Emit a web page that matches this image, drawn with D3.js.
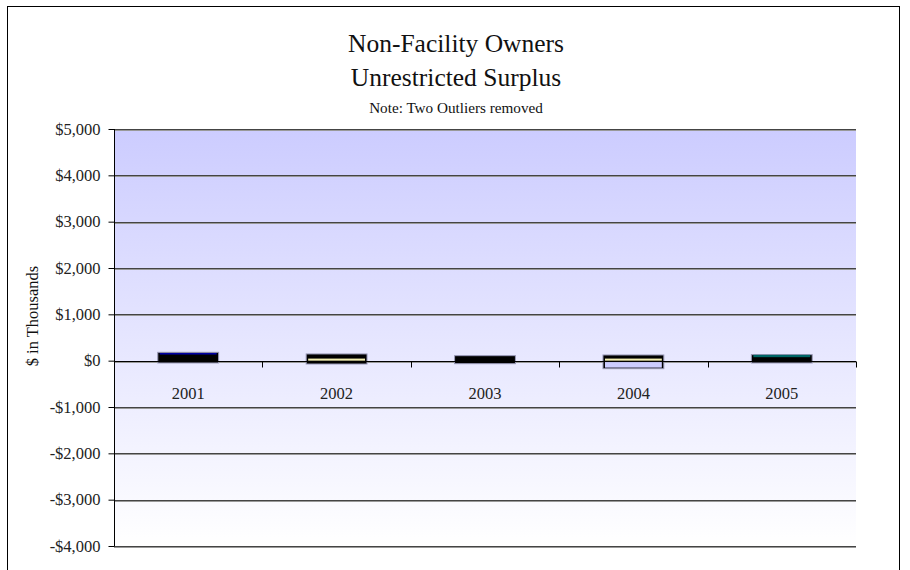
<!DOCTYPE html>
<html><head><meta charset="utf-8">
<script src="https://cdn.jsdelivr.net/npm/d3@7"></script>
<style>body{margin:0;background:#fff}</style>
</head><body><svg id="c" width="910" height="570"></svg>
<script>
const years = ["2001","2002","2003","2004","2005"];
const boxLow  = [-50, -72, -65, -173, -50];
const boxHigh = [180, 145, 108, 123, 130];
const bandYear  = ["2001","2002","2004","2004","2005"];
const bandLow   = [135, 0, 0, -150, 75];
const bandHigh  = [160, 45, 45, -30, 125];
const bandColor = ["#0000dd","#f2eeb0","#f2eeb0","#ccccff","#006666"];
const yTicks = [-4000,-3000,-2000,-1000,0,1000,2000,3000,4000,5000];

const svg = d3.select("#c");
const L=114,R=856,T=129,B=546;
const x = d3.scaleBand().domain(years).range([L,R]).paddingInner(0.59).paddingOuter(0.295);
const y = d3.scaleLinear().domain([-4000,5000]).range([B,T]);

svg.append("rect").attr("x",7.5).attr("y",6.5).attr("width",892).attr("height",600)
  .attr("fill","#fff").attr("stroke","#000").attr("stroke-width",1);

const defs = svg.append("defs");
const g = defs.append("linearGradient").attr("id","bg").attr("x1",0).attr("y1",0).attr("x2",0).attr("y2",1);
g.append("stop").attr("offset","0%").attr("stop-color","#ccccff");
g.append("stop").attr("offset","100%").attr("stop-color","#ffffff");
svg.append("rect").attr("x",L).attr("y",T).attr("width",R-L).attr("height",B-T).attr("fill","url(#bg)");

// gridlines
svg.append("g").selectAll("line").data(yTicks).join("line")
  .attr("x1",L).attr("x2",R).attr("y1",d=>Math.round(y(d))+0.5).attr("y2",d=>Math.round(y(d))+0.5)
  .attr("stroke","#444").attr("stroke-width",1);
svg.append("g").selectAll("line").data(yTicks).join("line")
  .attr("x1",L).attr("x2",R).attr("y1",d=>Math.round(y(d))+1.5).attr("y2",d=>Math.round(y(d))+1.5)
  .attr("stroke","#999").attr("stroke-width",1);

// boxes
svg.append("g").selectAll("rect").data(years).join("rect")
  .attr("x",d=>x(d)).attr("width",x.bandwidth())
  .attr("y",(d,i)=>y(boxHigh[i])).attr("height",(d,i)=>y(boxLow[i])-y(boxHigh[i]))
  .attr("fill","#000").attr("stroke","#9a9ab8").attr("stroke-width",1);
svg.append("g").selectAll("rect").data(bandYear).join("rect")
  .attr("x",d=>x(d)+2).attr("width",x.bandwidth()-4)
  .attr("y",(d,i)=>y(bandHigh[i])).attr("height",(d,i)=>y(bandLow[i])-y(bandHigh[i]))
  .attr("fill",(d,i)=>bandColor[i]);

// y axis
const ya = svg.append("g").attr("transform",`translate(${L+0.5},0)`)
  .call(d3.axisLeft(y).tickValues(yTicks).tickSize(6).tickPadding(8)
    .tickFormat(d=>(d<0?"-":"")+"$"+d3.format(",")(Math.abs(d))));
ya.select(".domain").attr("stroke","#000").attr("d",`M-0,${T}V${B}`);
ya.selectAll(".tick line").attr("stroke","#000");
ya.selectAll("text").attr("font-family","Liberation Serif").attr("font-size",16.5).attr("fill","#222");

// x axis at zero
const y0 = Math.round(y(0))+0.5;
svg.append("line").attr("x1",L).attr("x2",R).attr("y1",y0).attr("y2",y0).attr("stroke","#000");
const step = (R-L)/years.length;
svg.append("g").selectAll("line").data(d3.range(years.length+1)).join("line")
  .attr("x1",i=>Math.round(L+i*step)+0.5).attr("x2",i=>Math.round(L+i*step)+0.5)
  .attr("y1",y0).attr("y2",y0+6).attr("stroke","#000");
svg.append("g").selectAll("text").data(years).join("text")
  .attr("x",d=>x(d)+x.bandwidth()/2).attr("y",y0+37).attr("text-anchor","middle")
  .attr("font-family","Liberation Serif").attr("font-size",16.5).attr("fill","#222").text(d=>d);

// titles
const tf="Liberation Serif";
svg.append("text").attr("x",456).attr("y",52).attr("text-anchor","middle").attr("font-family",tf).attr("font-size",25.5).attr("fill","#111").text("Non-Facility Owners");
svg.append("text").attr("x",456).attr("y",86).attr("text-anchor","middle").attr("font-family",tf).attr("font-size",25.5).attr("fill","#111").text("Unrestricted Surplus");
svg.append("text").attr("x",456).attr("y",113).attr("text-anchor","middle").attr("font-family",tf).attr("font-size",15.2).attr("fill","#111").text("Note: Two Outliers removed");
svg.append("text").attr("transform","translate(38,316) rotate(-90)").attr("text-anchor","middle")
  .attr("font-family",tf).attr("font-size",16.5).attr("fill","#111").text("$ in Thousands");
</script></body></html>
